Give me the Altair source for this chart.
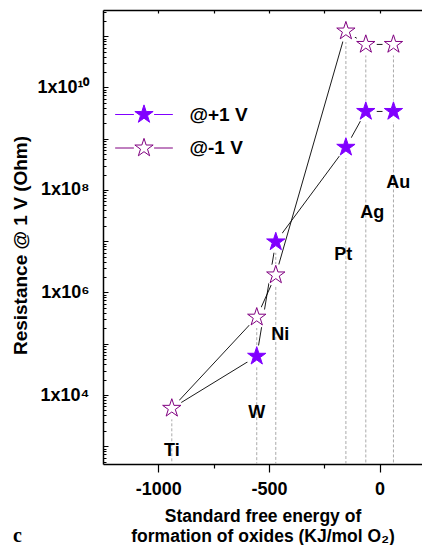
import altair as alt
import pandas as pd

# ---- data ----
metals = ["Ti", "W", "Ni", "Pt", "Ag", "Au"]
energy = [-939, -555, -469, -152, -62, 63]          # KJ/mol O2
r_plus = [5.5e3, 5.7e4, 9.7e6, 6.8e8, 3.4e9, 3.4e9]   # @+1 V
r_minus = [5.5e3, 3.3e5, 2.2e6, 1.26e11, 6.9e10, 6.9e10]  # @-1 V
label_x = [-939, -555, -449, -164, -33, 85]
label_y = [807, 4.46e3, 1.48e5, 5.4e6, 3.5e7, 1.38e8]
series_names = ["@+1 V", "@-1 V"]

x_domain = [-1250, 192]
y_domain = [451, 3.24e11]
x_ticks = [-1000, -750, -500, -250, 0]
y_label_ticks = [1e4, 1e6, 1e8, 1e10]
y_all_ticks = [m * 10.0 ** e for e in range(2, 12) for m in range(1, 10)
               if y_domain[0] <= m * 10.0 ** e <= y_domain[1]]

W, H = 319, 454
FONT = "Liberation Sans"
PURPLE_FILL = "#8000ff"
PURPLE_OPEN = "#800080"

plus_df = pd.DataFrame({"metal": metals, "energy": energy, "R": r_plus,
                        "series": series_names[0], "order": list(range(6))})
minus_df = pd.DataFrame({"metal": metals, "energy": energy, "R": r_minus,
                         "series": series_names[1], "order": list(range(6))})
rule_df = pd.DataFrame({"energy": energy,
                        "top": [max(a, b) for a, b in zip(r_plus, r_minus)],
                        "bottom": [y_domain[0]] * 6})
label_df = pd.DataFrame({"metal": metals, "lx": label_x, "ly": label_y})

xs = alt.Scale(domain=x_domain, nice=False, zero=False)
ys = alt.Scale(type="log", domain=y_domain, nice=False)

STAR = ("M0,-1L0.2245,-0.309L0.951,-0.309L0.3633,0.118L0.588,0.809L0,0.382"
        "L-0.588,0.809L-0.3633,0.118L-0.951,-0.309L-0.2245,-0.309Z")
LEGEND_SYMBOL = STAR + "M-3,0H-1.05M1.05,0H3"

fill_scale = alt.Scale(domain=series_names, range=[PURPLE_FILL, "white"])
stroke_scale = alt.Scale(domain=series_names, range=[PURPLE_FILL, PURPLE_OPEN])

legend = alt.Legend(orient="none", legendX=30.5, legendY=94, title=None,
                    symbolType=LEGEND_SYMBOL, symbolSize=370, symbolStrokeWidth=1,
                    labelFont=FONT, labelFontSize=19, labelFontWeight="bold",
                    labelColor="black", labelOffset=35, rowPadding=10.5, padding=0)

label_expr = ("'1x10' + (datum.value < 1e5 ? '⁴' : datum.value < 1e7 ? '⁶' : "
              "datum.value < 1e9 ? '⁸' : '¹⁰')")

main_x_axis = alt.Axis(
    orient="bottom", values=x_ticks, grid=False,
    labelExpr="datum.value % 500 == 0 ? '' + datum.value : ''",
    tickSize={"condition": {"test": "datum.value % 500 == 0", "value": 8}, "value": 4},
    tickColor="black", tickWidth=1.2, domainColor="black", domainWidth=1.5,
    labelFont=FONT, labelFontSize=18, labelFontWeight="bold", labelColor="black",
    labelPadding=8,
    title=["Standard free energy of", "formation  of oxides (KJ/mol O\u2082)"],
    titleFont=FONT, titleFontSize=17.5, titleFontWeight="bold", titleColor="black",
    titlePadding=9, titleLineHeight=20)

top_x_axis = alt.Axis(orient="bottom", offset=-H, values=x_ticks, labels=False,
                      grid=False, tickSize=3, tickColor="black", tickWidth=1.2,
                      domainColor="black", domainWidth=1.5, title=None)

main_y_axis = alt.Axis(
    orient="left", values=y_label_ticks, ticks=False, grid=False,
    labelExpr=label_expr, labelFont=FONT, labelFontSize=18, labelFontWeight="bold",
    labelColor="black", labelPadding=14, domainColor="black", domainWidth=1.5,
    title="Resistance @ 1 V (Ohm)", titleFont=FONT, titleFontSize=19,
    titleFontWeight="bold", titleColor="black", titleAngle=270,
    titleX=-73, titleY=235)

inner_y_axis = alt.Axis(
    orient="right", offset=-W, values=y_all_ticks, labels=False, domain=False,
    grid=False, title=None, tickColor="black", tickWidth=1,
    tickSize={"condition": {"test": "abs(log(datum.value)/LN10 - round(log(datum.value)/LN10)) < 0.001",
                            "value": 5}, "value": 3})

rules = alt.Chart(rule_df).mark_rule(color="#aaaaaa", strokeDash=[3, 2], strokeWidth=1).encode(
    x=alt.X("energy:Q", scale=xs, axis=main_x_axis),
    y=alt.Y("top:Q", scale=ys, axis=main_y_axis),
    y2="bottom:Q")


def series_layers(df, first):
    line = alt.Chart(df).mark_line(color="black", strokeWidth=0.9).encode(
        x=alt.X("energy:Q", scale=xs, axis=top_x_axis if first else None),
        y=alt.Y("R:Q", scale=ys, axis=inner_y_axis if first else None),
        order="order:Q")
    halo = alt.Chart(df).mark_point(shape="circle", filled=True, color="white",
                                    opacity=1, size=480).encode(
        x=alt.X("energy:Q", scale=xs, axis=None),
        y=alt.Y("R:Q", scale=ys, axis=None))
    stars = alt.Chart(df).mark_point(shape=STAR, filled=True, opacity=1,
                                     size=370, strokeWidth=1).encode(
        x=alt.X("energy:Q", scale=xs, axis=None),
        y=alt.Y("R:Q", scale=ys, axis=None),
        fill=alt.Fill("series:N", scale=fill_scale, legend=legend),
        stroke=alt.Stroke("series:N", scale=stroke_scale, legend=legend))
    return [line, halo, stars]


labels = alt.Chart(label_df).mark_text(font=FONT, fontSize=18, fontWeight="bold",
                                       color="black").encode(
    x=alt.X("lx:Q", scale=xs, axis=None),
    y=alt.Y("ly:Q", scale=ys, axis=None),
    text="metal:N")

chart = alt.layer(
    rules, *series_layers(plus_df, True), *series_layers(minus_df, False), labels
).resolve_axis(x="independent", y="independent").properties(
    width=W, height=H,
    autosize=alt.AutoSizeParams(type="none"),
    padding={"left": 95, "top": 2, "right": 0, "bottom": 81},
    title=alt.TitleParams(text="c", orient="bottom", anchor="start", frame="group",
                          font="Liberation Serif", fontSize=20, fontWeight="bold",
                          color="black", dx=-90, offset=-19),
).configure_view(stroke=None).configure(background="white")

chart.save("out.html", embed_options={"renderer": "svg", "actions": False})
